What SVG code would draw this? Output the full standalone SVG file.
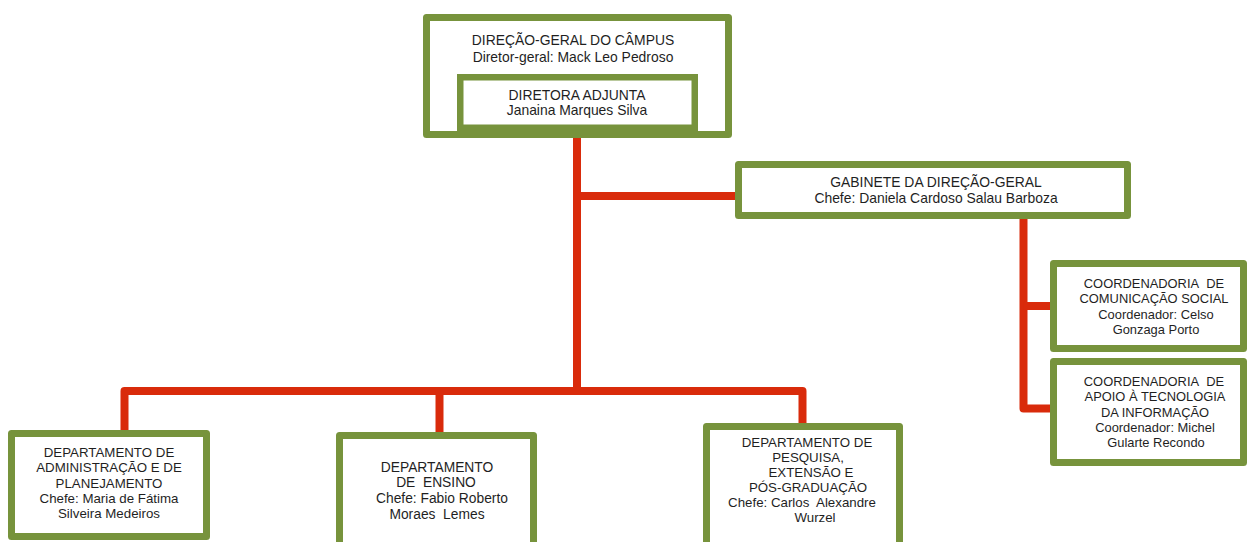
<svg xmlns="http://www.w3.org/2000/svg" width="1247" height="542" viewBox="0 0 1247 542">
<style>
.box{fill:#ffffff;stroke:#77933C;stroke-width:7;stroke-linejoin:round}
.inner{fill:#ffffff;stroke:#77933C;stroke-width:6.5}
.con{fill:none;stroke:#D92B0B;stroke-width:8;stroke-linejoin:round}
text{font-family:"Liberation Sans",Arial,sans-serif;font-size:13.3px;fill:#1f1f1f;text-anchor:middle}
.big{font-size:13.9px}
.mid{font-size:13.8px}
.sm{font-size:12.9px}
</style>
<rect width="1247" height="542" fill="#ffffff"/>
<g id="connectors">
<path class="con" d="M577 138 V391"/>
<path class="con" d="M577 196 H736"/>
<path class="con" d="M124.5 431 V391 H802.5 V424"/>
<path class="con" d="M439.5 391 V433"/>
<path class="con" d="M1023.5 219 V408.5 H1051"/>
<path class="con" d="M1023.5 306 H1051"/>
</g>
<g id="direcao-geral">
<rect class="box" x="426.5" y="17.5" width="302" height="117"/>
<text class="big" x="573" y="45">DIREÇÃO-GERAL DO CÂMPUS</text>
<text class="big" x="573" y="62">Diretor-geral: Mack Leo Pedroso</text>
</g>
<g id="diretora-adjunta">
<rect class="inner" x="460.25" y="77.25" width="234.5" height="50.5"/>
<text class="big" x="577" y="100">DIRETORA ADJUNTA</text>
<text class="big" x="577" y="115">Janaina Marques Silva</text>
</g>
<g id="gabinete">
<rect class="box" x="738.5" y="164.5" width="389" height="51"/>
<text class="big" x="936" y="187">GABINETE DA DIREÇÃO-GERAL</text>
<text class="big" x="936" y="203">Chefe: Daniela Cardoso Salau Barboza</text>
</g>
<g id="comunicacao">
<rect class="box" x="1053.5" y="263.5" width="190" height="85"/>
<text class="sm" x="1154" y="288">COORDENADORIA&#160; DE</text>
<text class="sm" x="1154" y="303.3">COMUNICAÇÃO SOCIAL</text>
<text class="sm" x="1156" y="318.6">Coordenador: Celso</text>
<text class="sm" x="1156" y="333.9">Gonzaga Porto</text>
</g>
<g id="apoio-ti">
<rect class="box" x="1053.5" y="361.5" width="190" height="101"/>
<text class="sm" x="1154" y="386">COORDENADORIA&#160; DE</text>
<text class="sm" x="1155" y="401.3">APOIO À TECNOLOGIA</text>
<text class="sm" x="1155" y="416.6">DA INFORMAÇÃO</text>
<text class="sm" x="1155" y="431.9">Coordenador: Michel</text>
<text class="sm" x="1156" y="447.2">Gularte Recondo</text>
</g>
<g id="dep-administracao">
<rect class="box" x="11.5" y="433.5" width="195" height="103"/>
<text x="109" y="457">DEPARTAMENTO DE</text>
<text x="109" y="472.3">ADMINISTRAÇÃO E DE</text>
<text x="109" y="487.6">PLANEJAMENTO</text>
<text x="109" y="502.9">Chefe: Maria de Fátima</text>
<text x="109" y="518.2">Silveira Medeiros</text>
</g>
<g id="dep-ensino">
<rect class="box" x="339.5" y="435.5" width="194" height="120"/>
<text class="mid" x="437" y="471.5">DEPARTAMENTO</text>
<text class="mid" x="436" y="487">DE&#160; ENSINO</text>
<text class="mid" x="442" y="503">Chefe: Fabio Roberto</text>
<text class="mid" x="437" y="519">Moraes&#160; Lemes</text>
</g>
<g id="dep-pesquisa">
<rect class="box" x="706.5" y="426.5" width="193" height="130"/>
<text x="807" y="447">DEPARTAMENTO DE</text>
<text x="808" y="462">PESQUISA,</text>
<text x="811" y="477">EXTENSÃO E</text>
<text x="808" y="492">PÓS-GRADUAÇÃO</text>
<text x="802" y="507">Chefe: Carlos&#160; Alexandre</text>
<text x="815" y="522">Wurzel</text>
</g>
</svg>
